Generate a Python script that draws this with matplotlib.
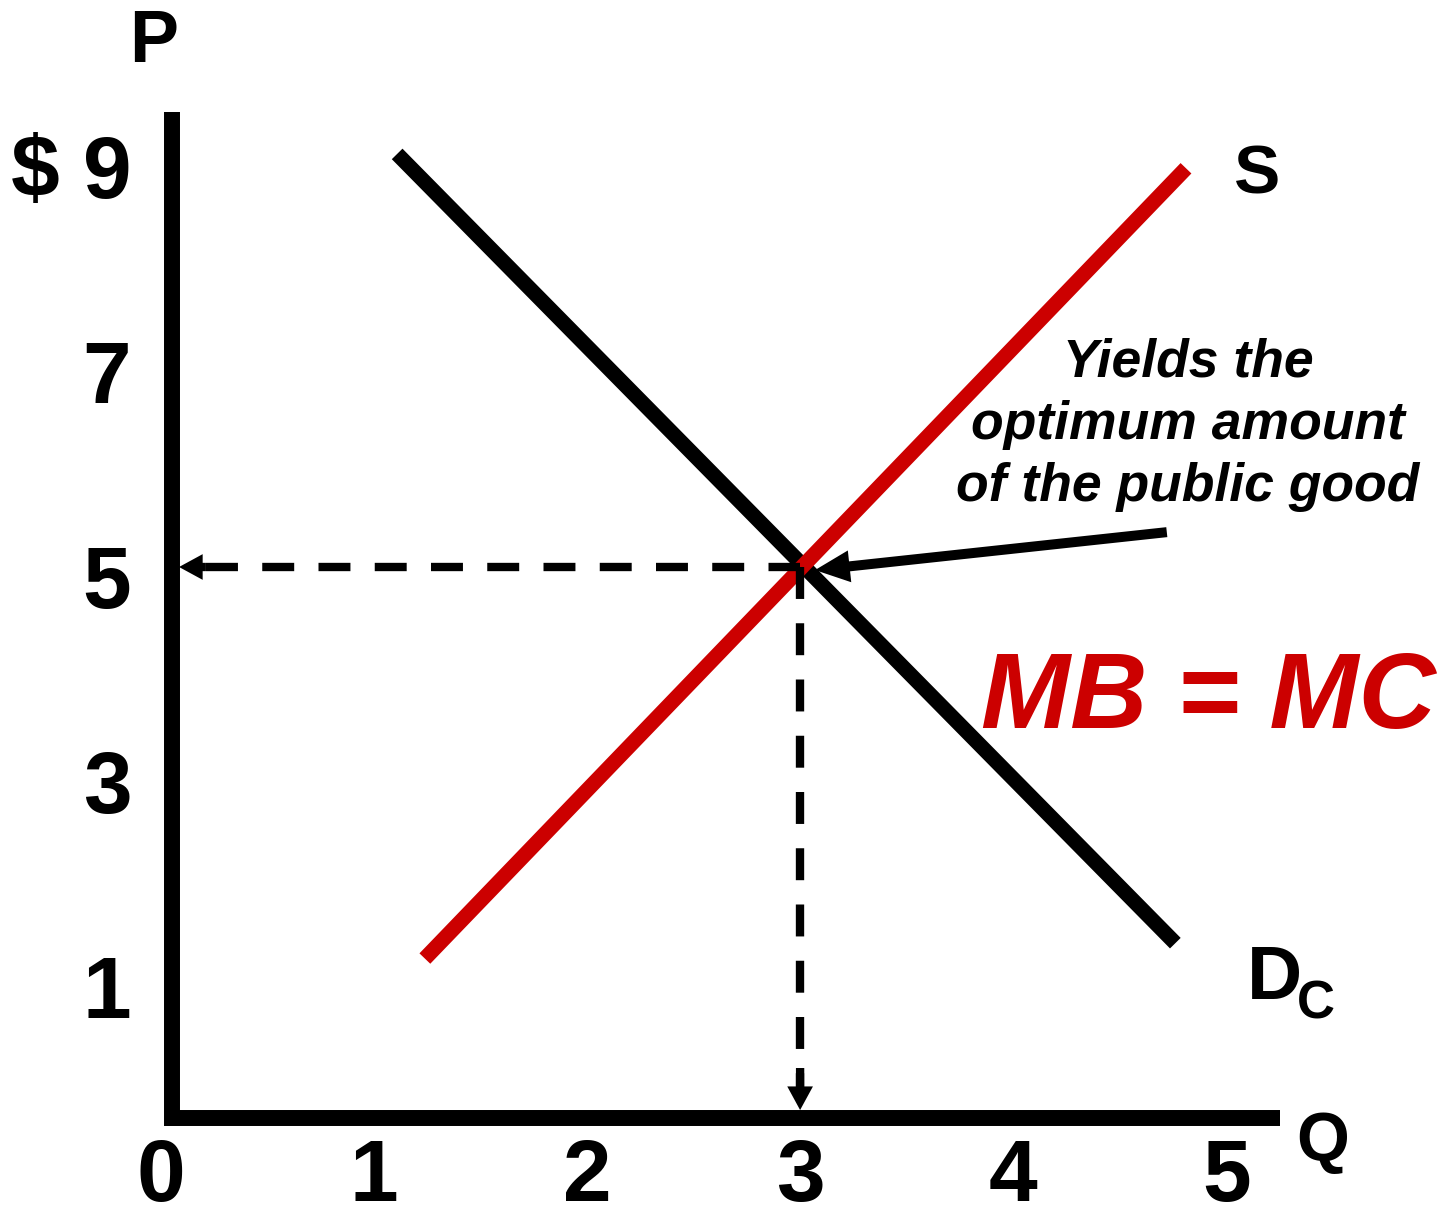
import matplotlib
matplotlib.use("Agg")
import matplotlib.pyplot as plt

# demand (collective, D_C) and supply lines
DEMAND_Q = [1.11, 4.76]
DEMAND_P = [9.03, 1.33]
SUPPLY_Q = [1.24, 4.81]
SUPPLY_P = [1.18, 8.89]

EQ_Q = 3
EQ_P = 5

Y_TICKS = [9, 7, 5, 3, 1]
X_TICKS = [0, 1, 2, 3, 4, 5]

NOTE = "Yields the\noptimum amount\nof the public good"
RULE = "MB = MC"

RED = "#CC0000"
BLACK = "#000000"

# axis frame (data units)
AXIS_X = 0.054
AXIS_Y = -0.376
AXIS_TOP = 9.44
AXIS_RIGHT = 5.25


def _set_style() -> None:
    plt.rcParams.update(
        {
            "font.family": ["Liberation Sans", "DejaVu Sans"],
            "font.weight": "bold",
        }
    )


def main() -> None:
    _set_style()
    fig = plt.figure(figsize=(14.52, 12.08), dpi=100)
    ax = fig.add_axes([0, 0, 1, 1])
    ax.set_xlim(-0.7528, 6.0577)
    ax.set_ylim(-1.2537, 10.5317)
    ax.axis("off")

    # axes
    ax.plot([AXIS_X, AXIS_X], [AXIS_TOP, AXIS_Y - 0.08], color=BLACK, lw=11.5, solid_capstyle="butt")
    ax.plot([AXIS_X - 0.035, AXIS_RIGHT], [AXIS_Y, AXIS_Y], color=BLACK, lw=11.5, solid_capstyle="butt")

    # curves
    ax.plot(DEMAND_Q, DEMAND_P, color=BLACK, lw=10.8, solid_capstyle="butt")
    ax.plot(SUPPLY_Q, SUPPLY_P, color=RED, lw=10.8, solid_capstyle="butt")

    # dashed guides
    dash_lw = 6.0
    dashes = (0, (23.0 / dash_lw, 17.5 / dash_lw))
    ax.plot([0.213, EQ_Q], [EQ_P, EQ_P], color=BLACK, lw=dash_lw, linestyle=dashes, dash_capstyle="butt")
    ax.plot([EQ_Q, EQ_Q], [EQ_P, -0.083], color=BLACK, lw=dash_lw, linestyle=dashes, dash_capstyle="butt")
    head = "simple,head_length=17,head_width=18.5,tail_width=6.0"
    ax.annotate("", xy=(0.087, EQ_P), xytext=(0.213, EQ_P),
                arrowprops=dict(arrowstyle=head, mutation_scale=1, color=BLACK, lw=0, shrinkA=0, shrinkB=0))
    ax.annotate("", xy=(EQ_Q, -0.298), xytext=(EQ_Q, 0.112),
                arrowprops=dict(arrowstyle=head, mutation_scale=1, color=BLACK, lw=0, shrinkA=0, shrinkB=0))

    # pointer to equilibrium
    ax.annotate("", xy=(3.07, 4.97), xytext=(4.72, 5.34),
                arrowprops=dict(arrowstyle="simple,head_length=25,head_width=23,tail_width=7.2",
                                mutation_scale=1, color=BLACK, lw=0, shrinkA=0, shrinkB=0))

    # tick labels
    for v in Y_TICKS:
        ax.annotate(str(v), xy=(AXIS_X, v), xytext=(-46.8, -7.2), textcoords="offset points",
                    ha="center", va="center_baseline", fontsize=63, fontweight="bold")
    for v in X_TICKS:
        ax.annotate(str(v), xy=(v, AXIS_Y), xytext=(0, -37.0), textcoords="offset points",
                    ha="center", va="center_baseline", fontsize=63, fontweight="bold")
    ax.text(-0.589, 8.92, "$", ha="center", va="center_baseline", fontsize=63, fontweight="bold")

    # axis and curve names
    ax.text(-0.0305, 10.19, "P", ha="center", va="center_baseline", fontsize=53, fontweight="bold")
    ax.text(5.453, -0.543, "Q", ha="center", va="center_baseline", fontsize=49, fontweight="bold")
    ax.text(5.145, 8.89, "S", ha="center", va="center_baseline", fontsize=50, fontweight="bold")
    ax.text(5.223, 1.049, "D", ha="center", va="center_baseline", fontsize=55, fontweight="bold")
    ax.text(5.420, 0.785, "C", ha="center", va="center_baseline", fontsize=38, fontweight="bold")

    ax.text(4.819, 6.39, NOTE, ha="center", va="center", fontsize=38.5, fontweight="bold",
            fontstyle="italic", linespacing=1.31)
    ax.text(4.913, 3.81, RULE, ha="center", va="center_baseline", fontsize=77, fontweight="bold",
            fontstyle="italic", color=RED)

    fig.savefig("out.png", dpi=100)
    plt.close(fig)


if __name__ == "__main__":
    main()
